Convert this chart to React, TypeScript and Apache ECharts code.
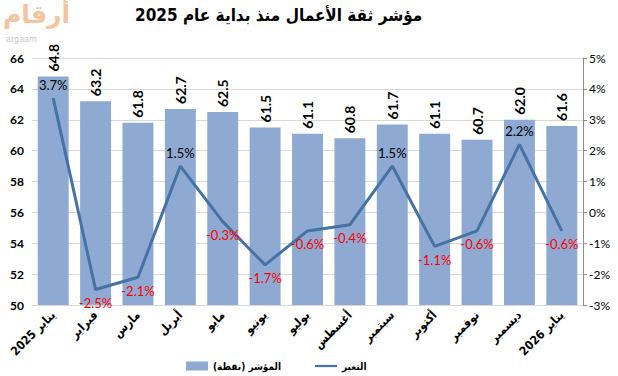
import React, { useEffect, useRef } from "react";
import * as echarts from "echarts";

const categories = [
  "يناير 2025", "فبراير", "مارس", "أبريل", "مايو", "يونيو", "يوليو",
  "أغسطس", "سبتمبر", "أكتوبر", "نوفمبر", "ديسمبر", "يناير 2026",
];
const indexValues = [64.8, 63.2, 61.8, 62.7, 62.5, 61.5, 61.1, 60.8, 61.7, 61.1, 60.7, 62.0, 61.6];
const changeValues = [3.7, -2.5, -2.1, 1.5, -0.3, -1.7, -0.6, -0.4, 1.5, -1.1, -0.6, 2.2, -0.6];

const barName = "المؤشر (نقطة)";
const lineName = "التغير";
const title = "مؤشر ثقة الأعمال منذ بداية عام 2025";

const numFont = "Lato, 'DejaVu Sans', sans-serif";
const arFont = "'DejaVu Sans Condensed', 'DejaVu Sans', sans-serif";

export default function App() {
  const ref = useRef<HTMLDivElement>(null);
  useEffect(() => {
    if (!ref.current) return;
    const chart = echarts.init(ref.current, undefined, { renderer: "svg" });
    chart.setOption({
      animation: false,
      backgroundColor: "#ffffff",
      graphic: [
        {
          type: "text",
          left: 3,
          top: 2,
          style: { text: "أرقام", fill: "#f6c3a0", font: "bold 25px 'DejaVu Sans', sans-serif" },
        },
        {
          type: "text",
          left: 6,
          top: 35,
          style: { text: "argaam", fill: "#c8c8c8", font: "8px 'DejaVu Sans', sans-serif" },
        },
        {
          type: "text",
          left: 135,
          top: 6,
          style: {
            text: title,
            fill: "#000",
            font: "bold 17px 'DejaVu Sans Condensed', 'DejaVu Sans', serif",
          },
        },
      ],
      legend: {
        left: 181,
        top: 356,
        itemWidth: 22,
        itemHeight: 9,
        itemGap: 34,
        textStyle: { fontFamily: arFont, fontWeight: "bold", fontSize: 10, color: "#000" },
        data: [
          { name: barName, icon: "rect" },
          { name: lineName, icon: "path://M0,0H30V3H0Z" },
        ],
      },
      grid: { left: 32, right: 35, top: 58, bottom: 71 },
      xAxis: {
        type: "category",
        data: categories,
        axisLine: { show: false },
        axisTick: { show: false },
        axisLabel: {
          rotate: 45,
          interval: 0,
          margin: 8,
          fontFamily: arFont,
          fontWeight: "bold",
          fontSize: 12,
          color: "#000",
        },
      },
      yAxis: [
        {
          type: "value",
          min: 50,
          max: 66,
          interval: 2,
          axisLine: { show: false },
          axisTick: { show: false },
          splitLine: { lineStyle: { color: "#d9d9d9", width: 1 } },
          axisLabel: { fontFamily: numFont, fontWeight: "bold", fontSize: 12, color: "#000", margin: 8 },
        },
        {
          type: "value",
          min: -3,
          max: 5,
          interval: 1,
          position: "right",
          axisLine: { show: true, lineStyle: { color: "#8c8c8c" } },
          axisTick: { show: true, length: 4, lineStyle: { color: "#8c8c8c" } },
          splitLine: { show: false },
          axisLabel: {
            fontFamily: numFont,
            fontSize: 12,
            color: "#000",
            margin: 6,
            formatter: (v: number) => `${v}%`,
          },
        },
      ],
      series: [
        {
          name: barName,
          type: "bar",
          yAxisIndex: 0,
          data: indexValues,
          barCategoryGap: "27%",
          itemStyle: { color: "#8faad2" },
          label: {
            show: true,
            position: "top",
            rotate: 90,
            align: "left",
            verticalAlign: "middle",
            distance: 5,
            fontFamily: numFont,
            fontWeight: "bold",
            fontSize: 14,
            color: "#000",
            formatter: (p: any) => p.value.toFixed(1),
          },
        },
        {
          name: lineName,
          type: "line",
          yAxisIndex: 1,
          symbol: "circle",
          symbolSize: 0,
          showSymbol: true,
          lineStyle: { color: "#4672a6", width: 3 },
          itemStyle: { color: "#4672a6" },
          data: changeValues.map((v) => ({
            value: v,
            label: {
              show: true,
              position: v >= 0 ? "top" : "bottom",
              distance: 7,
              color: v >= 0 ? "#000" : "#ff0000",
              fontFamily: numFont,
              fontSize: 13,
              formatter: () => `${v.toFixed(1)}%`,
            },
          })),
        },
      ],
    });
    return () => chart.dispose();
  }, []);
  return <div ref={ref} style={{ width: 618, height: 376, position: "absolute", left: 0, top: 0 }} />;
}
